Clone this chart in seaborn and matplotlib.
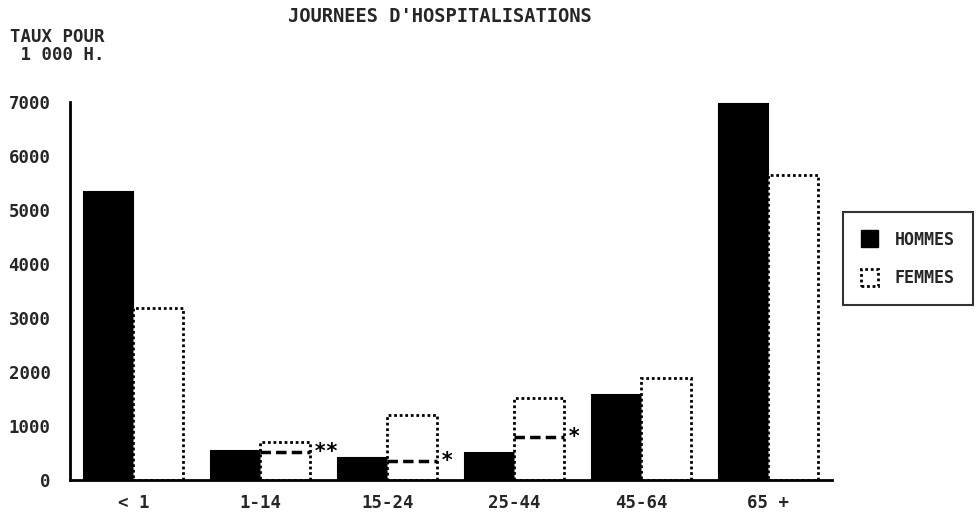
import matplotlib
matplotlib.use("Agg")
import matplotlib.pyplot as plt
import seaborn as sns
import pandas as pd
from matplotlib.patches import Patch

categories = ["< 1", "1-14", "15-24", "25-44", "45-64", "65 +"]
hommes = [5330, 540, 410, 500, 1570, 6960]
femmes = [3190, 700, 1200, 1520, 1890, 5650]
series = ["HOMMES", "FEMMES"]
# dashed reference levels drawn on some female bars, with their marks
ref_categories = ["1-14", "15-24", "25-44"]
ref_values = [520, 350, 800]
ref_marks = ["**", "*", "*"]
yticks = [0, 1000, 2000, 3000, 4000, 5000, 6000, 7000]

df = pd.DataFrame({
    "cat": categories * 2,
    "val": hommes + femmes,
    "sexe": [series[0]] * len(categories) + [series[1]] * len(categories),
})

sns.set_style("white")
plt.rcParams["font.family"] = ["DejaVu Sans Mono", "DejaVu Sans"]
plt.rcParams["font.weight"] = "bold"

fig = plt.figure(figsize=(9.78, 5.16), dpi=100)
ax = fig.add_axes([70 / 978, 1 - 480 / 516, (832 - 70) / 978, (480 - 102) / 516])

sns.barplot(data=df, x="cat", y="val", hue="sexe", order=categories,
            hue_order=series, palette=["black", "white"], width=0.78,
            edgecolor="black", linewidth=1.5, ax=ax, legend=False, errorbar=None)

for bar in ax.containers[1]:
    bar.set_linestyle((0, (1, 1)))
    bar.set_linewidth(2)

# reference dashed lines on female bars
for c, v, m in zip(ref_categories, ref_values, ref_marks):
    i = categories.index(c)
    b = ax.containers[1][i]
    x0, x1 = b.get_x(), b.get_x() + b.get_width()
    ax.hlines(v, x0, x1, colors="black", linestyles=(0, (3, 1.5)), linewidth=2.5, zorder=5)
    ax.text(x1 + 0.03, v, m, ha="left", va="center", fontsize=15, color="black", zorder=6)

ax.set_xlim(-0.5, len(categories) - 0.5)
ax.set_ylim(0, 7000)
ax.set_yticks(yticks)
ax.set_yticklabels([str(t) for t in yticks], fontsize=12.5, fontweight="bold")
ax.set_xticks(range(len(categories)))
ax.set_xticklabels(categories, fontsize=12.5, fontweight="bold")
ax.set_xticks([i - 0.5 for i in range(len(categories) + 1)], minor=True)
ax.tick_params(axis="x", which="major", length=0, pad=10)
ax.tick_params(axis="x", which="minor", direction="inout", length=8, width=1.5)
ax.tick_params(axis="y", direction="inout", length=8, width=1.5, pad=10)
ax.set_xlabel("")
ax.set_ylabel("")
for s in ["top", "right"]:
    ax.spines[s].set_visible(False)
for s in ["left", "bottom"]:
    ax.spines[s].set_linewidth(2)
    ax.spines[s].set_color("black")

fig.text(440 / 978, 1 - 16 / 516, "JOURNEES D'HOSPITALISATIONS", ha="center", va="center",
         fontsize=13.5, fontweight="bold")
fig.text(10 / 978, 1 - 28 / 516, "TAUX POUR\n 1 000 H.", ha="left", va="top",
         fontsize=12.5, fontweight="bold", linespacing=1.0)

handles = [Patch(facecolor="black", edgecolor="black", label=series[0]),
           Patch(facecolor="white", edgecolor="black", linestyle=(0, (1, 1)), linewidth=2, label=series[1])]
leg = fig.legend(handles=handles, loc="upper left", bbox_to_anchor=(843 / 978, 1 - 212 / 516),
                 frameon=True, fancybox=False, fontsize=12, handlelength=1.0, handleheight=1.2,
                 borderpad=1.1, labelspacing=1.2, handletextpad=1.0, borderaxespad=0)
leg.get_frame().set_edgecolor("black")
leg.get_frame().set_linewidth(1.5)
for t in leg.get_texts():
    t.set_fontweight("bold")

fig.savefig("out.png", dpi=100)
